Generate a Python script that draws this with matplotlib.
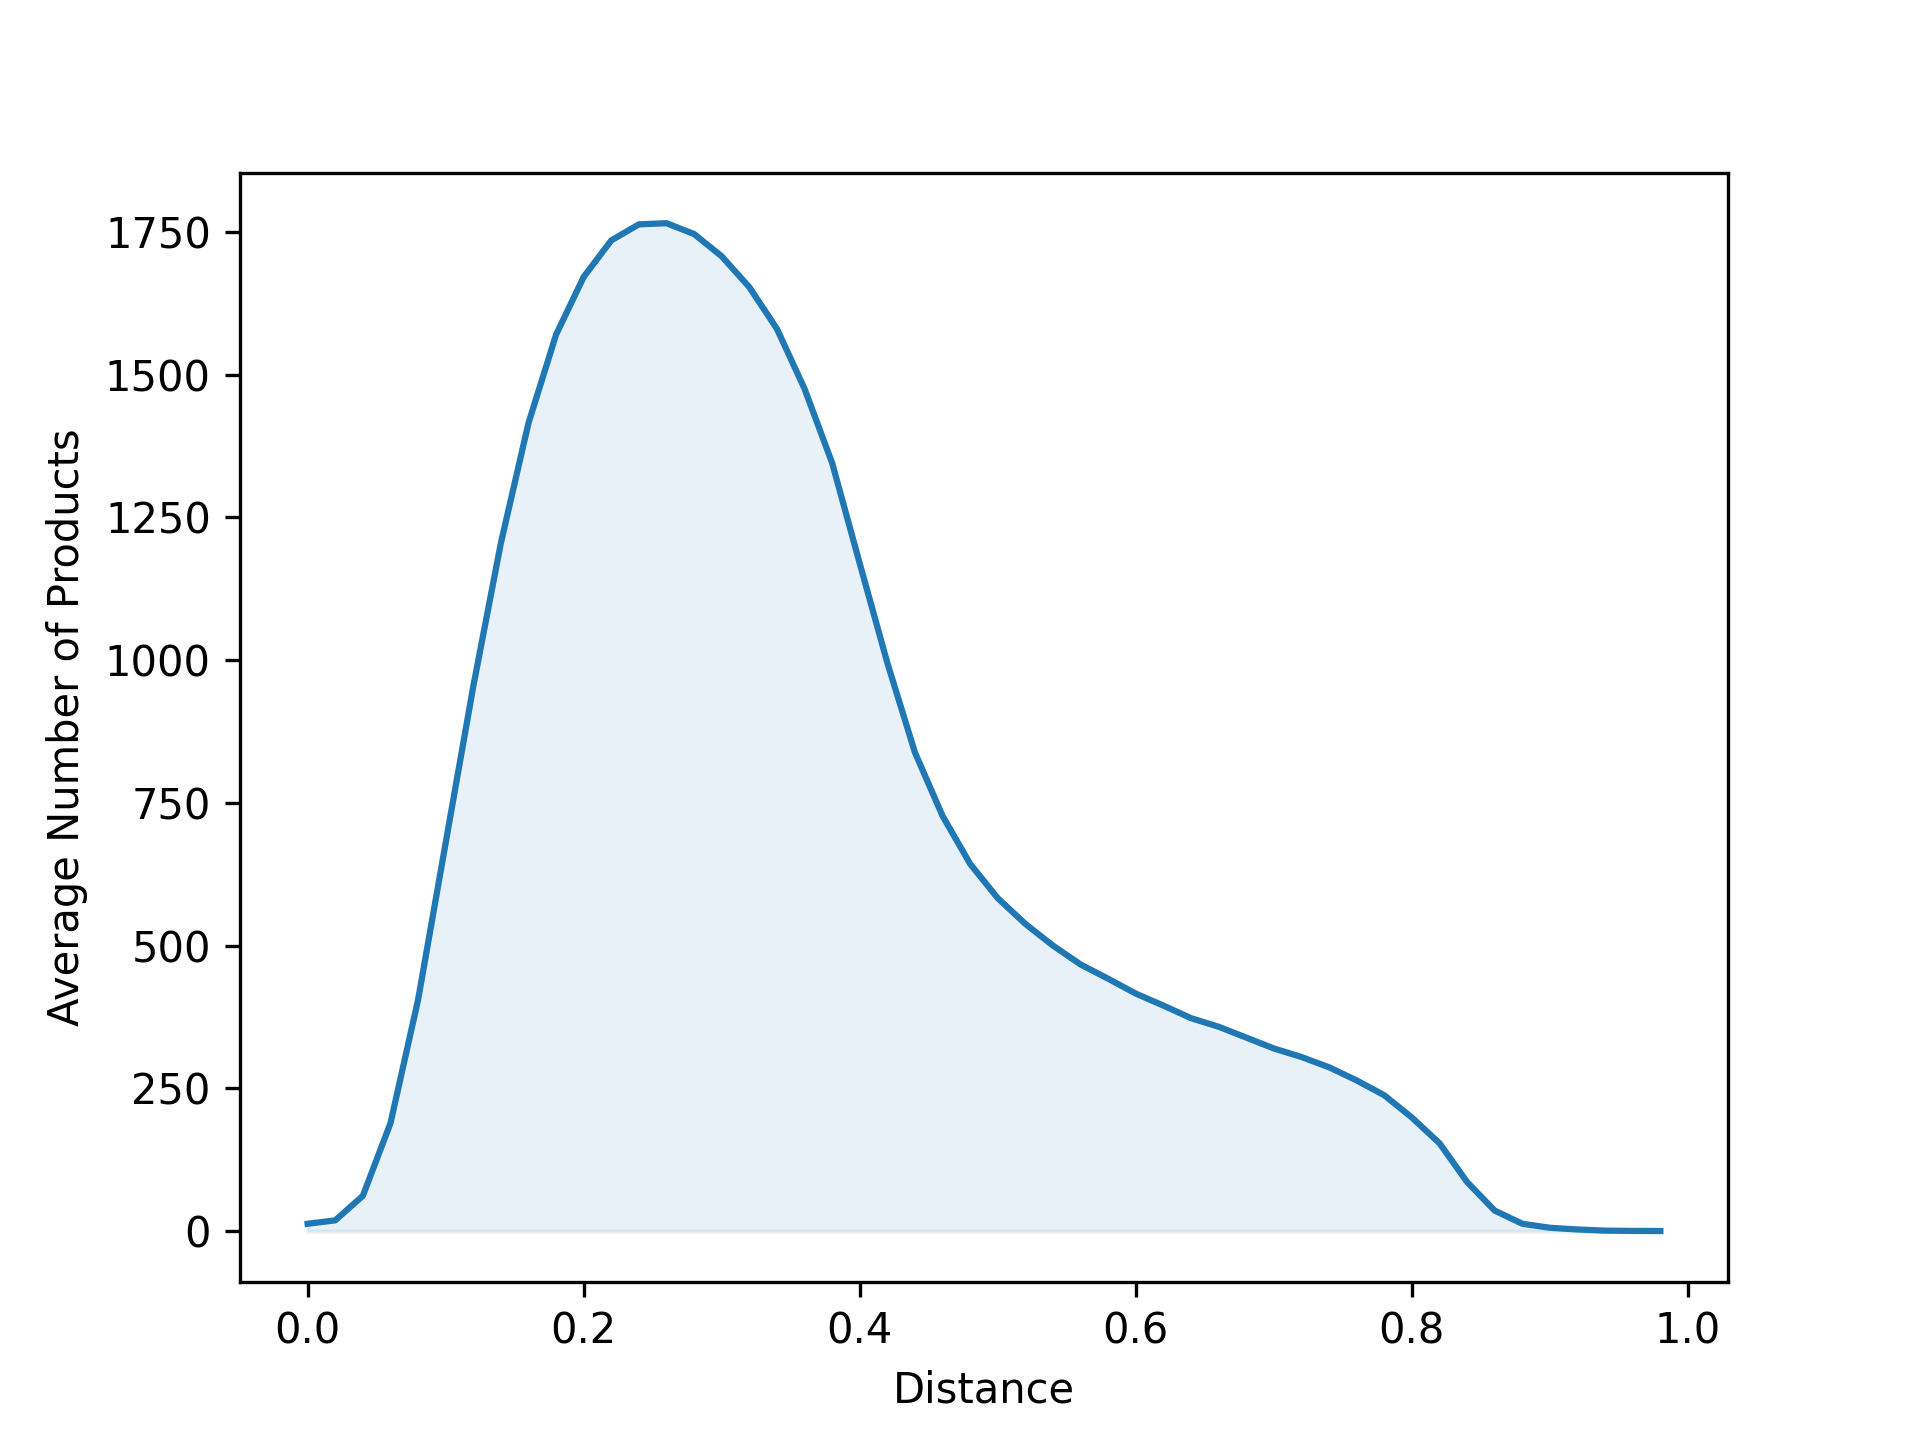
import matplotlib
matplotlib.use("Agg")
import matplotlib.pyplot as plt
import numpy as np

distance = np.arange(50) * 0.02
avg_products = [13, 19, 62, 189, 405, 680, 954, 1205, 1415, 1570,
                1671, 1735, 1763, 1765, 1746, 1707, 1653, 1580, 1475, 1345,
                1169, 995, 838, 727, 643, 583, 538, 500, 467, 442,
                416, 395, 373, 358, 339, 320, 305, 287, 264, 238,
                199, 154, 86, 36, 13, 6, 3, 1, 0.5, 0.3]

fig, ax = plt.subplots(figsize=(6.4, 4.8), dpi=300)
ax.plot(distance, avg_products, color='#1f77b4')
ax.fill_between(distance, avg_products, alpha=0.1, color='#1f77b4')
ax.set_xlabel('Distance')
ax.set_ylabel('Average Number of Products')
fig.savefig('out.png')
